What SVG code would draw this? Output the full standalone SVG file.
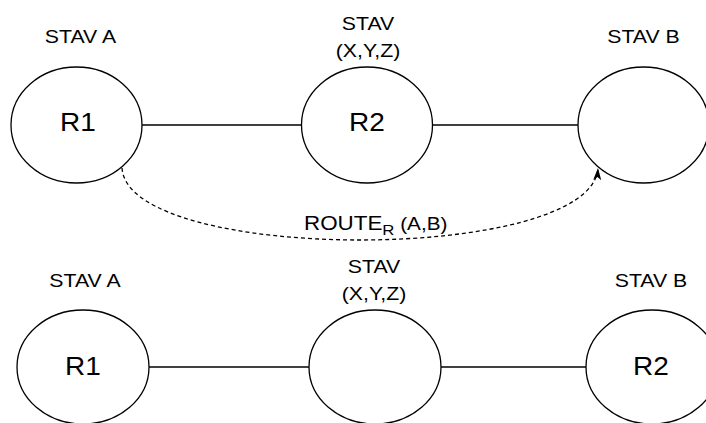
<svg xmlns="http://www.w3.org/2000/svg" width="706" height="423" viewBox="0 0 706 423">
  <style>
    .node { fill: #ffffff; stroke: #000000; stroke-width: 1.3; }
    .link { fill: none; stroke: #000000; stroke-width: 1.3; }
    .route { fill: none; stroke: #000000; stroke-width: 1.3; stroke-dasharray: 4 3; }
    text { font-family: "Liberation Sans", Arial, sans-serif; fill: #000000; text-anchor: middle; }
    .lbl { font-size: 19px; }
    .rt { font-size: 25px; }
  </style>
  <defs>
    <marker id="arrow" markerUnits="userSpaceOnUse" viewBox="0 0 12 9" markerWidth="12" markerHeight="9" refX="12" refY="4.5" orient="auto">
      <path d="M0,0.5 L12,4.5 L0,8.5 L3,4.5 Z" fill="#000000"/>
    </marker>
  </defs>

  <!-- connectors -->
  <g id="connectors">
    <line class="link" x1="142" y1="125" x2="301.5" y2="125"/>
    <line class="link" x1="432.5" y1="125" x2="578" y2="125"/>
    <line class="link" x1="149" y1="367" x2="309" y2="367"/>
    <line class="link" x1="441" y1="367" x2="586" y2="367"/>
    <path class="route" d="M122,168 C128,264 592,264 598,168" marker-end="url(#arrow)"/>
    <text transform="translate(304,230) scale(1.12,1)" style="text-anchor:start"><tspan font-size="20">ROUTE</tspan><tspan font-size="15" dy="5">R</tspan><tspan font-size="18.5" dy="-5"> (A,B)</tspan></text>
  </g>

  <!-- upper row -->
  <g id="top-a">
    <ellipse class="node" cx="76.5" cy="125" rx="65.5" ry="58"/>
    <text class="rt" transform="translate(78,130.5) scale(1.12,1)">R1</text>
    <text class="lbl" transform="translate(80.5,43) scale(1.12,1)">STAV A</text>
  </g>
  <g id="top-xyz">
    <ellipse class="node" cx="367" cy="125" rx="65.5" ry="58"/>
    <text class="rt" transform="translate(367,131) scale(1.12,1)">R2</text>
    <text class="lbl" transform="translate(368,30) scale(1.12,1)">STAV</text>
    <text class="lbl" transform="translate(368,57) scale(1.12,1)">(X,Y,Z)</text>
  </g>
  <g id="top-b">
    <ellipse class="node" cx="643.5" cy="125" rx="65.5" ry="58"/>
    <text class="lbl" transform="translate(643.5,43) scale(1.12,1)">STAV B</text>
  </g>

  <!-- lower row -->
  <g id="bottom-a">
    <ellipse class="node" cx="83" cy="367" rx="66" ry="57"/>
    <text class="rt" transform="translate(83,375) scale(1.12,1)">R1</text>
    <text class="lbl" transform="translate(85,287) scale(1.12,1)">STAV A</text>
  </g>
  <g id="bottom-xyz">
    <ellipse class="node" cx="375" cy="367" rx="66" ry="57"/>
    <text class="lbl" transform="translate(374,273) scale(1.12,1)">STAV</text>
    <text class="lbl" transform="translate(374,300) scale(1.12,1)">(X,Y,Z)</text>
  </g>
  <g id="bottom-b">
    <ellipse class="node" cx="652" cy="367" rx="66" ry="57"/>
    <text class="rt" transform="translate(651,375) scale(1.12,1)">R2</text>
    <text class="lbl" transform="translate(651,287) scale(1.12,1)">STAV B</text>
  </g>
</svg>
